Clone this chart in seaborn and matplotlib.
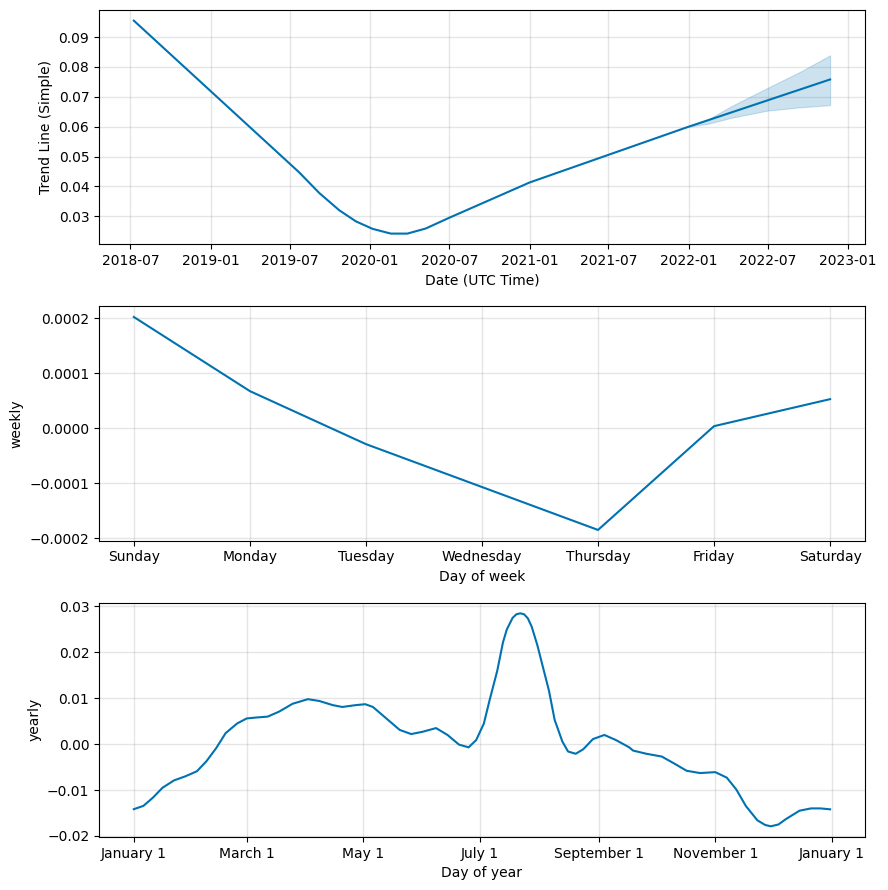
import pandas as pd
import matplotlib
matplotlib.use('Agg')
import matplotlib.pyplot as plt
import matplotlib.dates as mdates
import seaborn as sns

BLUE = '#0072B2'

# trend (changepoint knots)
trend_dates = ['2018-07-09', '2019-07-23', '2019-09-07', '2019-10-23', '2019-11-30',
               '2020-01-07', '2020-02-18', '2020-03-27', '2020-05-08', '2020-07-01',
               '2021-01-01', '2022-01-01', '2022-11-21']
trend_vals = [0.0955, 0.0447, 0.0378, 0.0320, 0.0283,
              0.0258, 0.0242, 0.0242, 0.0259, 0.0295,
              0.0413, 0.0600, 0.0758]

# uncertainty band on the forecast part
band_dates = ['2022-01-01', '2022-02-15', '2022-04-09', '2022-07-01', '2022-09-15', '2022-11-21']
band_upper = [0.0600, 0.0625, 0.0669, 0.0730, 0.0785, 0.0839]
band_lower = [0.0600, 0.0610, 0.0630, 0.0654, 0.0665, 0.0672]

# weekly seasonality
days_of_week = ['Sunday', 'Monday', 'Tuesday', 'Wednesday', 'Thursday', 'Friday', 'Saturday']
weekly_vals = [0.000202, 0.0000673, -0.000029, -0.000107, -0.000185, 0.0000036, 0.0000527]

# yearly seasonality (day of year -> value)
year_days = [0, 5, 10, 15, 21, 27, 33, 38, 43, 48, 54, 59, 64, 70, 76, 83, 91, 97, 104, 109,
             116, 121, 125, 132, 139, 145, 151, 158, 164, 170, 175, 179, 183, 186, 190, 193,
             195, 198, 200, 202, 204, 206, 208, 211, 213, 217, 220, 224, 227, 231, 235, 240,
             246, 252, 259, 261, 268, 276, 282, 289, 296, 304, 310, 315, 320, 326, 330, 333,
             337, 341, 348, 354, 359, 364]
yearly_vals = [-0.01417, -0.01345, -0.01165, -0.0095, -0.0079, -0.0070, -0.0059, -0.0037,
               -0.0009, 0.0024, 0.0045, 0.0056, 0.0058, 0.0060, 0.0071, 0.0088, 0.0098, 0.0094,
               0.0085, 0.0081, 0.0085, 0.0087, 0.0081, 0.0056, 0.0031, 0.0022, 0.0027, 0.0035,
               0.0020, -0.0001, -0.0007, 0.0009, 0.0045, 0.0096, 0.0160, 0.0222,
               0.0250, 0.0275, 0.0283, 0.0285, 0.0283, 0.0274, 0.0256, 0.0215, 0.0182,
               0.0117, 0.0053, 0.0006, -0.0016, -0.0021, -0.0011, 0.0011,
               0.0020, 0.0009, -0.0007, -0.0014, -0.0021, -0.0027, -0.0041, -0.0058, -0.0063,
               -0.0061, -0.0073, -0.0099, -0.0135, -0.0166, -0.0176, -0.0179,
               -0.0175, -0.0163, -0.0145, -0.0140, -0.0140, -0.0142]

year_ticks = [0, 59, 120, 181, 243, 304, 365]
year_labels = ['January 1', 'March 1', 'May 1', 'July 1', 'September 1', 'November 1', 'January 1']

trend = pd.DataFrame({'ds': pd.to_datetime(trend_dates), 'trend': trend_vals})
band = pd.DataFrame({'ds': pd.to_datetime(band_dates), 'upper': band_upper, 'lower': band_lower})
weekly = pd.DataFrame({'day': range(7), 'weekly': weekly_vals})
yearly = pd.DataFrame({'doy': year_days, 'yearly': yearly_vals})

fig, axes = plt.subplots(3, 1, figsize=(8.88, 8.90), dpi=100)
fig.subplots_adjust(left=0.1115, right=0.974, top=0.9888, bottom=0.0596, hspace=0.265)

def style(ax):
    ax.grid(True, which='major', c='gray', ls='-', lw=1, alpha=0.2)
    ax.set_axisbelow(True)

# trend
ax = axes[0]
sns.lineplot(data=trend, x='ds', y='trend', color=BLUE, lw=1.5, ax=ax)
ax.fill_between(band['ds'], band['lower'], band['upper'], color=BLUE, alpha=0.2, lw=0.8)
ax.xaxis.set_major_locator(mdates.MonthLocator(bymonth=[1, 7]))
ax.xaxis.set_major_formatter(mdates.DateFormatter('%Y-%m'))
ax.set_xlabel('Date (UTC Time)')
ax.set_ylabel('Trend Line (Simple)')
style(ax)

# weekly
ax = axes[1]
sns.lineplot(data=weekly, x='day', y='weekly', color=BLUE, lw=1.5, ax=ax)
ax.set_xticks(range(7))
ax.set_xticklabels(days_of_week)
ax.set_xlabel('Day of week')
ax.set_ylabel('weekly')
style(ax)

# yearly
ax = axes[2]
sns.lineplot(data=yearly, x='doy', y='yearly', color=BLUE, lw=1.5, ax=ax)
ax.set_xticks(year_ticks)
ax.set_xticklabels(year_labels)
ax.set_xlabel('Day of year')
ax.set_ylabel('yearly')
style(ax)

fig.savefig('out.png', dpi=100)
